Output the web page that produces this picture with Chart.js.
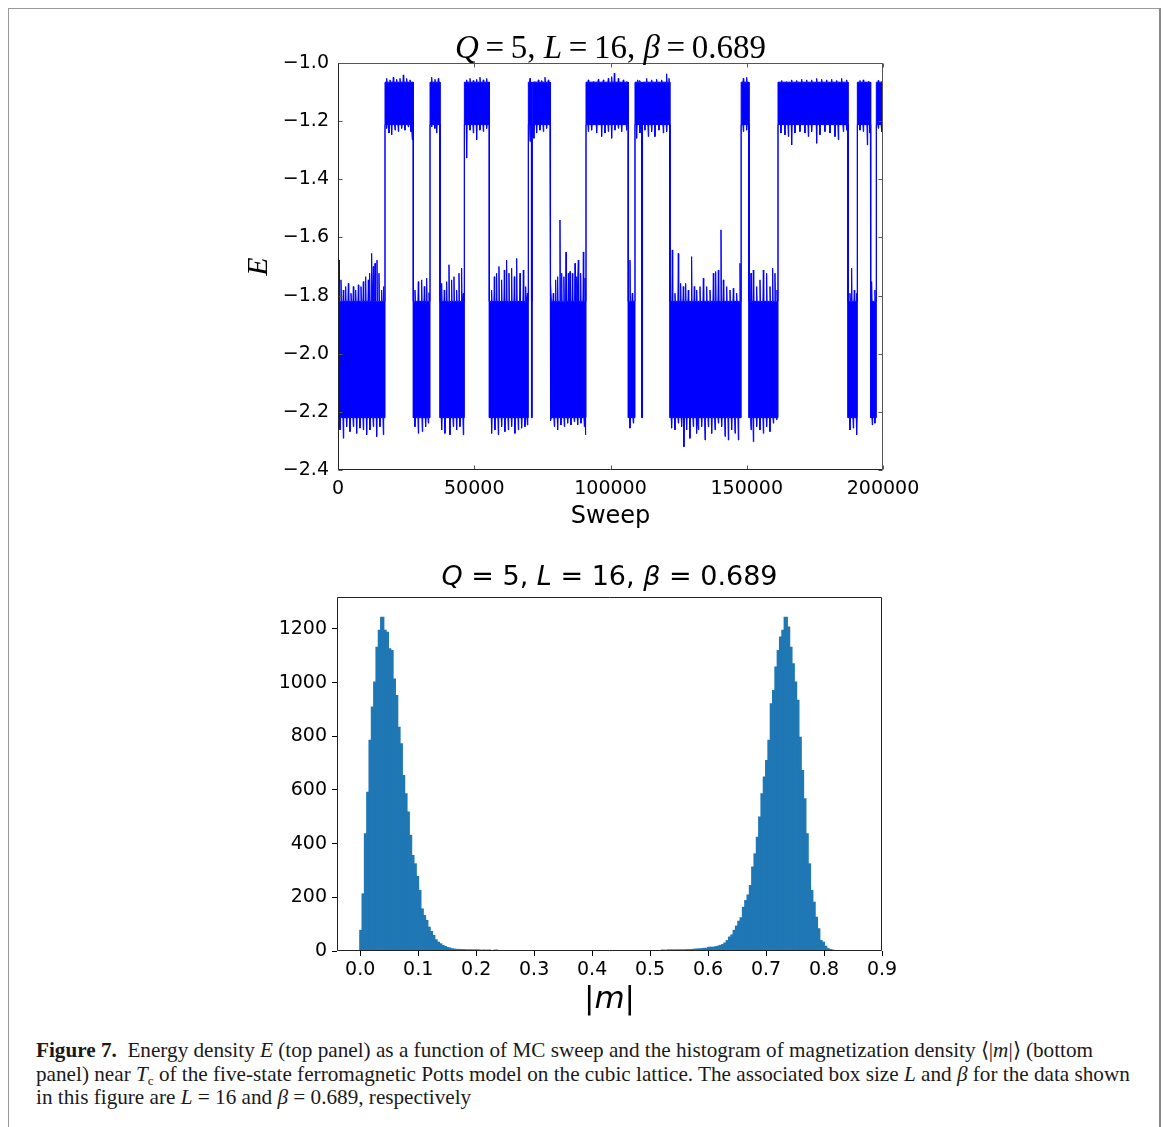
<!DOCTYPE html>
<html>
<head>
<meta charset="utf-8">
<script src="https://cdn.jsdelivr.net/npm/chart.js@4.4.1/dist/chart.umd.min.js"></script>
<style>
  html, body { margin: 0; padding: 0; background: #fff; }
  body { width: 1163px; height: 1127px; position: relative; overflow: hidden; }
  #frame { position: absolute; left: 8px; top: 8px; width: 1150px; height: 1130px;
           border-left: 1px solid #9a9a9a; border-top: 1px solid #9a9a9a; border-right: 2px solid #8a8a8a; }
  #topChart { position: absolute; left: 0; top: 0; }
  #histChart { position: absolute; left: 0; top: 540px; }
  .cap { position: absolute; left: 36px; top: 1039px; font-family: "Liberation Serif", serif;
         font-size: 21.2px; line-height: 23.5px; white-space: nowrap; color: #1a1a1a; }
  .cap sub { font-size: 13px; line-height: 0; vertical-align: -4px; }
</style>
</head>
<body>
<div id="frame"></div>
<canvas id="topChart" width="1163" height="540"></canvas>
<canvas id="histChart" width="1163" height="490"></canvas>
<div class="cap">
<b>Figure 7.</b>&nbsp; Energy density <i>E</i> (top panel) as a function of MC sweep and the histogram of magnetization density ⟨|<i>m</i>|⟩ (bottom<br>
panel) near <i>T</i><sub>c</sub> of the five-state ferromagnetic Potts model on the cubic lattice. The associated box size <i>L</i> and <i>β</i> for the data shown<br>
in this figure are <i>L</i> = 16 and <i>β</i> = 0.689, respectively
</div>
<script>
// ---- panel 1: energy trace ----
// sweep where the system jumps, and the state it jumps into (L = ordered/low E, H = disordered/high E)
const switchSweep = [0, 17250, 27650, 33770, 37440, 46370, 55540, 69850, 71000, 71300, 77800, 91010,
  106540, 108990, 111450, 111750, 121830, 147950, 150820, 161470, 187160, 190580, 195470, 197550];
const switchState = ['L', 'H', 'L', 'H', 'L', 'H', 'L', 'H', 'L', 'H', 'L', 'H',
  'L', 'H', 'L', 'H', 'L', 'H', 'L', 'H', 'L', 'H', 'L', 'H'];
const sweepMax = 200000;
// dense part of the noise band [top, bottom]
const lowBand = [-1.82, -2.22];
const highBand = [-1.066, -1.212];
// isolated excursions sticking out of the dense band: [sweep, E]
const lowTopSpikes = [
  [370, -1.678], [1100, -1.746], [1960, -1.781], [2810, -1.769], [3790, -1.758], [4770, -1.792], [5630, -1.769],
  [6480, -1.781], [7460, -1.763], [8440, -1.769], [9290, -1.752], [10150, -1.735], [11130, -1.746], [11620, -1.723],
  [12350, -1.655], [12960, -1.700], [13580, -1.689], [14310, -1.678], [15040, -1.723], [16020, -1.781], [16750, -1.769],
  [28250, -1.781], [29470, -1.752], [30700, -1.746], [31680, -1.769], [32530, -1.740], [33390, -1.790],
  [38040, -1.758], [39010, -1.781], [39870, -1.752], [40730, -1.694], [41700, -1.746], [42560, -1.735], [43540, -1.781],
  [44400, -1.723], [45370, -1.706], [45980, -1.792],
  [56380, -1.781], [57360, -1.735], [58210, -1.723], [59070, -1.700], [60050, -1.746], [61030, -1.712], [61880, -1.678],
  [62740, -1.723], [63720, -1.706], [64700, -1.735], [65570, -1.672], [66790, -1.723], [68010, -1.712], [68870, -1.769],
  [69500, -1.792],
  [78160, -1.758], [79000, -1.792], [79870, -1.746], [80600, -1.735], [81460, -1.540], [82080, -1.723], [82900, -1.735],
  [83670, -1.650], [84530, -1.723], [85140, -1.717], [86000, -1.723], [86980, -1.689], [87600, -1.735], [88190, -1.678],
  [89050, -1.723], [90030, -1.650], [90640, -1.740],
  [107150, -1.678], [108000, -1.792],
  [122680, -1.643], [123660, -1.792], [124880, -1.655], [125740, -1.758], [126720, -1.769], [127570, -1.758],
  [128550, -1.781], [129770, -1.666], [130750, -1.769], [131620, -1.781], [132840, -1.769], [134070, -1.740],
  [135290, -1.769], [136510, -1.781], [137740, -1.723], [138590, -1.717], [139570, -1.712], [140550, -1.574],
  [141410, -1.746], [142630, -1.769], [143850, -1.781], [145070, -1.775], [146290, -1.792], [147520, -1.689],
  [151560, -1.723], [152410, -1.712], [153640, -1.769], [154860, -1.746], [156080, -1.712], [157300, -1.723],
  [158530, -1.769], [159510, -1.706], [160360, -1.723], [161100, -1.781],
  [187880, -1.792], [188490, -1.706], [189470, -1.781], [190330, -1.792],
  [195830, -1.752], [197040, -1.781]
];
const lowBottomSpikes = [
  [730, -2.262], [1960, -2.291], [3180, -2.251], [4400, -2.268], [5630, -2.251], [6850, -2.274], [8070, -2.256],
  [9290, -2.262], [10520, -2.279], [11740, -2.262], [12960, -2.251], [14190, -2.285], [15410, -2.251], [16630, -2.279],
  [28250, -2.251], [29470, -2.274], [30940, -2.268], [32160, -2.251], [33140, -2.239],
  [38040, -2.262], [39260, -2.274], [41090, -2.279], [42310, -2.251], [43540, -2.262], [44760, -2.251], [45980, -2.279],
  [56380, -2.274], [57600, -2.262], [58820, -2.279], [60050, -2.251], [61270, -2.268], [62490, -2.262], [63720, -2.251],
  [64940, -2.274], [66170, -2.262], [67390, -2.256], [68620, -2.251], [69500, -2.245],
  [78160, -2.231], [79380, -2.251], [80600, -2.262], [81830, -2.245], [83050, -2.251], [84280, -2.239], [85500, -2.245],
  [86720, -2.234], [87950, -2.245], [89170, -2.239], [90390, -2.251], [90800, -2.279],
  [107150, -2.256], [108370, -2.239],
  [122430, -2.256], [123660, -2.262], [124880, -2.239], [126100, -2.251], [126960, -2.320], [127940, -2.262],
  [129160, -2.291], [130380, -2.251], [131600, -2.274], [132230, -2.262], [133450, -2.251], [134680, -2.297],
  [135900, -2.251], [137130, -2.274], [138350, -2.262], [139570, -2.239], [140790, -2.251], [142020, -2.285],
  [143240, -2.297], [144460, -2.262], [145690, -2.274], [146910, -2.297],
  [151560, -2.262], [152410, -2.303], [153640, -2.251], [154860, -2.262], [156080, -2.274], [157300, -2.251],
  [158530, -2.268], [159750, -2.239], [160970, -2.228],
  [187880, -2.262], [189100, -2.256], [190330, -2.279],
  [196070, -2.245], [197040, -2.239]
];
const highTopSpikes = [
  [17860, -1.053], [19080, -1.058], [20300, -1.049], [21520, -1.056], [22750, -1.053], [23970, -1.041], [25190, -1.053],
  [26420, -1.058],
  [34370, -1.049], [35590, -1.056], [36810, -1.053],
  [47210, -1.058], [48430, -1.053], [49650, -1.060], [50880, -1.056], [52100, -1.049], [53320, -1.058], [54550, -1.053],
  [70460, -1.053], [72290, -1.064], [73520, -1.058], [74740, -1.060], [75960, -1.049], [77180, -1.058],
  [91860, -1.058], [93700, -1.064], [95530, -1.056], [97370, -1.058], [99200, -1.053], [100420, -1.047],
  [101400, -1.035], [102870, -1.053], [104700, -1.058], [106000, -1.064],
  [109960, -1.058], [110700, -1.060], [113260, -1.053], [115100, -1.058], [116930, -1.056], [118770, -1.058],
  [120600, -1.037], [121460, -1.053],
  [148740, -1.053], [149970, -1.049],
  [162810, -1.060], [164650, -1.064], [166480, -1.058], [168310, -1.060], [170150, -1.056], [171980, -1.058],
  [173820, -1.058], [175650, -1.053], [177490, -1.056], [179320, -1.058], [181160, -1.056], [182990, -1.060],
  [184820, -1.053], [186660, -1.058],
  [191550, -1.060], [192770, -1.058], [194610, -1.064],
  [198270, -1.060], [199490, -1.064]
];
const highBottomSpikes = [
  [17860, -1.225], [18710, -1.241], [19690, -1.247], [20920, -1.231], [22140, -1.236], [23360, -1.225], [24580, -1.231],
  [25810, -1.220], [26780, -1.236], [27270, -1.264],
  [34370, -1.220], [35590, -1.225], [36200, -1.241],
  [47210, -1.327], [48430, -1.231], [49650, -1.241], [50880, -1.264], [52100, -1.231], [53320, -1.236], [54550, -1.225],
  [70460, -1.270], [71900, -1.259], [72900, -1.241], [74120, -1.231], [75350, -1.236], [76570, -1.225],
  [91860, -1.236], [93080, -1.231], [94920, -1.241], [96750, -1.253], [97980, -1.241], [99200, -1.236],
  [100420, -1.259], [101640, -1.231], [102870, -1.225], [104090, -1.236], [105920, -1.231],
  [109590, -1.259], [110810, -1.241], [112640, -1.231], [113870, -1.253], [115100, -1.236], [116320, -1.253],
  [117790, -1.231], [119380, -1.241], [120600, -1.236],
  [148740, -1.236], [149970, -1.231],
  [162560, -1.241], [164030, -1.247], [165260, -1.253], [166480, -1.282], [167700, -1.241], [169540, -1.236],
  [171370, -1.241], [172600, -1.253], [173820, -1.236], [175650, -1.276], [176880, -1.247], [178710, -1.236],
  [180550, -1.241], [182380, -1.253], [183600, -1.264], [185440, -1.236], [186660, -1.231],
  [191550, -1.231], [192770, -1.236], [194240, -1.282], [195220, -1.241],
  [198270, -1.225], [199490, -1.236]
];
const sweepTicks = [0, 50000, 100000, 150000, 200000];
const energyTicks = [-2.4, -2.2, -2.0, -1.8, -1.6, -1.4, -1.2, -1.0];

// ---- panel 2: histogram of |m|, bin width 0.004 ----
const binWidth = 0.004;
const leftStart = 0.0;
const leftCounts = [75, 211, 435, 590, 783, 907, 1000, 1130, 1193, 1242, 1193, 1186, 1124, 1118, 1012, 950, 832, 770,
  652, 584, 516, 429, 354, 323, 276, 224, 155, 130, 112, 87, 71, 56, 40, 31, 25, 19, 15, 11, 9, 6, 5, 4, 4, 3, 3, 2, 2,
  2, 1, 1, 1, 1, 0, 1, 0, 1, 0, 0, 1];
const rightStart = 0.52;
const rightCounts = [1, 0, 1, 1, 1, 1, 1, 2, 1, 2, 2, 3, 3, 4, 5, 5, 6, 6, 8, 8, 12, 12, 12, 14, 16, 19, 22, 28, 37, 50,
  58, 75, 91, 109, 122, 161, 186, 207, 242, 311, 360, 422, 497, 584, 646, 708, 783, 919, 969, 1056, 1118, 1168, 1193,
  1242, 1205, 1130, 1068, 1000, 932, 795, 671, 565, 435, 323, 224, 180, 124, 81, 37, 31, 16, 7, 3, 1];
const mTicks = [0.0, 0.1, 0.2, 0.3, 0.4, 0.5, 0.6, 0.7, 0.8, 0.9];
const countTicks = [0, 200, 400, 600, 800, 1000, 1200];

const spikeHalf = 150; // half width of one drawn excursion, in sweeps

// builds the upper or lower edge of the noisy trace, segment by segment
function buildEdge(isTop) {
  const pts = [];
  for (let i = 0; i < switchSweep.length; i++) {
    const s = switchSweep[i];
    const e = i + 1 < switchSweep.length ? switchSweep[i + 1] : sweepMax;
    const low = switchState[i] === 'L';
    const band = low ? lowBand : highBand;
    const core = isTop ? band[0] : band[1];
    const spikes = low ? (isTop ? lowTopSpikes : lowBottomSpikes) : (isTop ? highTopSpikes : highBottomSpikes);
    pts.push({ x: s, y: core });
    spikes.filter(p => p[0] - spikeHalf > s && p[0] + spikeHalf < e).forEach(p => {
      pts.push({ x: p[0] - spikeHalf, y: core }, { x: p[0], y: p[1] }, { x: p[0] + spikeHalf, y: core });
    });
    pts.push({ x: e, y: core });
  }
  return pts;
}

function histPoints(start, counts) {
  return counts.map((c, k) => ({ x: start + (k + 0.5) * binWidth, y: c }));
}

// draws text made of upright / italic runs
function drawRuns(ctx, item, area) {
  const fonts = item.runs.map(r => (r[1] ? 'italic ' : '') + item.size + 'px ' + item.family);
  let total = 0;
  const widths = item.runs.map((r, i) => { ctx.font = fonts[i]; const w = ctx.measureText(r[0]).width; total += w; return w; });
  const cx = (area.left + area.right) / 2;
  const cy = (area.top + area.bottom) / 2;
  ctx.save();
  if (item.at === 'left') {
    ctx.translate(area.left - item.off, cy);
    ctx.rotate(-Math.PI / 2);
  } else {
    ctx.translate(cx, item.at === 'top' ? area.top - item.off : area.bottom + item.off);
  }
  ctx.fillStyle = '#000';
  ctx.textBaseline = 'middle';
  ctx.textAlign = 'left';
  let x = -total / 2;
  item.runs.forEach((r, i) => { ctx.font = fonts[i]; ctx.fillText(r[0], x, 0); x += widths[i]; });
  ctx.restore();
}

const decor = {
  id: 'decor',
  afterDraw(chart, args, opts) {
    const { ctx, chartArea: a } = chart;
    const L = Math.round(a.left) + 0.5, R = Math.round(a.right) - 0.5;
    const T = Math.round(a.top) + 0.5, B = Math.round(a.bottom) - 0.5;
    ctx.save();
    ctx.lineWidth = 1;
    if (opts.inTicks) {
      ctx.strokeStyle = '#555';
      ctx.beginPath();
      chart.scales.x.ticks.forEach(t => {
        const px = Math.round(chart.scales.x.getPixelForValue(t.value)) + 0.5;
        ctx.moveTo(px, B); ctx.lineTo(px, B - 4);
        ctx.moveTo(px, T); ctx.lineTo(px, T + 4);
      });
      chart.scales.y.ticks.forEach(t => {
        const py = Math.round(chart.scales.y.getPixelForValue(t.value)) + 0.5;
        ctx.moveTo(L, py); ctx.lineTo(L + 4, py);
        ctx.moveTo(R, py); ctx.lineTo(R - 4, py);
      });
      ctx.stroke();
    }
    ctx.strokeStyle = opts.frameLight;
    ctx.beginPath();
    ctx.moveTo(L, T); ctx.lineTo(R, T); ctx.lineTo(R, B);
    ctx.stroke();
    ctx.strokeStyle = opts.frameDark;
    ctx.beginPath();
    ctx.moveTo(L, T); ctx.lineTo(L, B); ctx.lineTo(R, B);
    ctx.stroke();
    ctx.restore();
    (opts.texts || []).forEach(item => drawRuns(ctx, item, a));
  }
};

const tickFont = { family: 'DejaVu Sans', size: 19 };
const minus = v => String(v).replace('-', '\u2212');

new Chart(document.getElementById('topChart'), {
  type: 'line',
  data: {
    datasets: [
      { data: buildEdge(true), borderColor: '#0000ff', backgroundColor: '#0000ff', borderWidth: 1,
        pointRadius: 0, tension: 0, fill: '+1' },
      { data: buildEdge(false), borderColor: '#0000ff', borderWidth: 1, pointRadius: 0, tension: 0, fill: false }
    ]
  },
  options: {
    responsive: false, animation: false, events: [],
    layout: { padding: { left: 0, right: 280, top: 63, bottom: 0 } },
    plugins: {
      legend: { display: false }, tooltip: { enabled: false },
      decor: {
        inTicks: true, frameLight: '#555', frameDark: '#222',
        texts: [
          { at: 'top', off: 14, family: 'Liberation Serif', size: 33,
            runs: [['Q', true], ['\u2009=\u20095, ', false], ['L', true], ['\u2009=\u200916, ', false], ['β', true], ['\u2009=\u20090.689', false]] },
          { at: 'bottom', off: 47, family: 'DejaVu Sans', size: 24, runs: [['Sweep', false]] },
          { at: 'left', off: 79, family: 'Liberation Serif', size: 30, runs: [['E', true]] }
        ]
      }
    },
    scales: {
      x: {
        type: 'linear', min: 0, max: sweepMax,
        afterBuildTicks: s => { s.ticks = sweepTicks.map(v => ({ value: v })); },
        afterFit: s => { s.height = 70; },
        grid: { display: false, drawTicks: false }, border: { display: false },
        ticks: { font: tickFont, color: '#000', padding: 8, maxRotation: 0, callback: v => String(v) }
      },
      y: {
        min: -2.4, max: -1.0,
        afterBuildTicks: s => { s.ticks = energyTicks.map(v => ({ value: v })); },
        afterFit: s => { s.width = 338; },
        grid: { display: false, drawTicks: false }, border: { display: false },
        ticks: { font: tickFont, color: '#000', padding: 9, callback: v => minus(v.toFixed(1)) }
      }
    }
  },
  plugins: [decor]
});

new Chart(document.getElementById('histChart'), {
  type: 'bar',
  data: {
    datasets: [{
      data: histPoints(leftStart, leftCounts).concat(histPoints(rightStart, rightCounts)),
      backgroundColor: '#1f77b4', borderWidth: 0, barPercentage: 1, categoryPercentage: 1, inflateAmount: 1
    }]
  },
  options: {
    responsive: false, animation: false, events: [],
    layout: { padding: { left: 0, right: 281, top: 57, bottom: 0 } },
    plugins: {
      legend: { display: false }, tooltip: { enabled: false },
      decor: {
        inTicks: false, frameLight: '#222', frameDark: '#222',
        texts: [
          { at: 'top', off: 19, family: 'DejaVu Sans', size: 27,
            runs: [['Q', true], [' = 5, ', false], ['L', true], [' = 16, ', false], ['β', true], [' = 0.689', false]] },
          { at: 'bottom', off: 49, family: 'DejaVu Sans', size: 31, runs: [['|', false], ['m', true], ['|', false]] }
        ]
      }
    },
    scales: {
      x: {
        type: 'linear', min: -0.04, max: 0.9, offset: false,
        afterBuildTicks: s => { s.ticks = mTicks.map(v => ({ value: v })); },
        afterFit: s => { s.height = 79; },
        grid: { display: true, offset: false, drawOnChartArea: false, drawTicks: true, tickLength: 5, color: '#000' },
        border: { display: false },
        ticks: { font: tickFont, color: '#000', padding: 3, maxRotation: 0, callback: v => v.toFixed(1) }
      },
      y: {
        min: 0, max: 1319,
        afterBuildTicks: s => { s.ticks = countTicks.map(v => ({ value: v })); },
        afterFit: s => { s.width = 337; },
        grid: { display: true, drawOnChartArea: false, drawTicks: true, tickLength: 5, color: '#000' },
        border: { display: false },
        ticks: { font: tickFont, color: '#000', padding: 5, callback: v => String(v) }
      }
    }
  },
  plugins: [decor]
});
</script>
</body>
</html>
